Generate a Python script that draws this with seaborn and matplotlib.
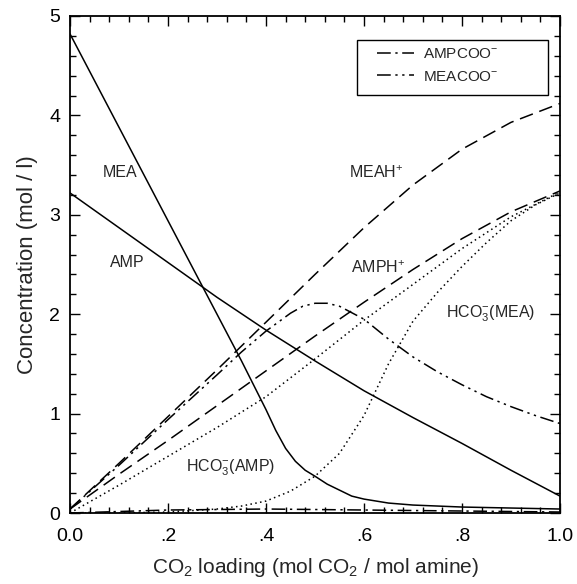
import numpy as np
import pandas as pd
import matplotlib
matplotlib.use("Agg")
import matplotlib.pyplot as plt
from matplotlib.patches import Rectangle
from matplotlib.ticker import MultipleLocator, FixedLocator, FixedFormatter
import seaborn as sns

# Values (loading x, concentration mol/l)
mea_x = [0, 0.1, 0.2, 0.3, 0.35, 0.4, 0.42, 0.44, 0.46, 0.48, 0.5, 0.525, 0.55, 0.575, 0.6, 0.65, 0.7, 0.8, 0.9, 1.0]
mea_y = [4.82, 3.88, 2.94, 2.00, 1.53, 1.04, 0.83, 0.65, 0.52, 0.43, 0.37, 0.29, 0.23, 0.17, 0.14, 0.10, 0.08, 0.06, 0.05, 0.04]

amp_x = [0, 0.1, 0.2, 0.3, 0.4, 0.5, 0.6, 0.7, 0.8, 0.9, 1.0]
amp_y = [3.22, 2.87, 2.52, 2.17, 1.84, 1.53, 1.23, 0.96, 0.70, 0.43, 0.17]

meah_x = [0, 0.1, 0.2, 0.3, 0.4, 0.5, 0.6, 0.7, 0.8, 0.9, 1.0]
meah_y = [0.04, 0.50, 0.97, 1.44, 1.92, 2.40, 2.87, 3.30, 3.66, 3.93, 4.12]

amph_x = [0, 0.1, 0.2, 0.3, 0.4, 0.5, 0.6, 0.7, 0.8, 0.9, 1.0]
amph_y = [0.04, 0.39, 0.73, 1.08, 1.43, 1.78, 2.12, 2.45, 2.76, 3.03, 3.24]

hco3_amp_x = [0, 0.1, 0.2, 0.3, 0.4, 0.5, 0.6, 0.7, 0.8, 0.9, 1.0]
hco3_amp_y = [0.0, 0.28, 0.57, 0.86, 1.17, 1.55, 1.94, 2.30, 2.66, 2.98, 3.23]

hco3_mea_x = [0, 0.1, 0.2, 0.3, 0.35, 0.4, 0.45, 0.5, 0.55, 0.6, 0.65, 0.7, 0.75, 0.8, 0.85, 0.9, 0.95, 1.0]
hco3_mea_y = [0.0, 0.0, 0.01, 0.04, 0.07, 0.12, 0.22, 0.37, 0.60, 0.98, 1.50, 1.93, 2.22, 2.48, 2.72, 2.94, 3.10, 3.22]

meacoo_x = [0, 0.1, 0.2, 0.3, 0.35, 0.4, 0.45, 0.475, 0.5, 0.525, 0.55, 0.6, 0.65, 0.7, 0.75, 0.8, 0.85, 0.9, 0.95, 1.0]
meacoo_y = [0.04, 0.48, 0.94, 1.39, 1.62, 1.83, 2.01, 2.08, 2.11, 2.11, 2.08, 1.95, 1.75, 1.57, 1.42, 1.29, 1.17, 1.07, 0.98, 0.90]

ampcoo_x = [0, 0.2, 0.4, 0.6, 0.8, 1.0]
ampcoo_y = [0.0, 0.03, 0.04, 0.03, 0.02, 0.01]

x_ticks = [0.0, 0.2, 0.4, 0.6, 0.8, 1.0]
x_ticklabels = ["0.0", ".2", ".4", ".6", ".8", "1.0"]
y_ticks = [0, 1, 2, 3, 4, 5]

# line styles
SOLID = "-"
DASHED = (0, (9, 4.5))
DASHDOT = (0, (9, 3, 1.5, 3))
DASHDOTDOT = (0, (9, 3, 1.5, 3, 1.5, 3))
DOTTED = (0, (1, 2.2))

sns.set_style("ticks")
plt.rcParams["font.family"] = ["Liberation Sans", "DejaVu Sans"]
plt.rcParams["mathtext.fontset"] = "custom"
plt.rcParams["mathtext.rm"] = "Liberation Sans"
plt.rcParams["mathtext.it"] = "Liberation Sans"
plt.rcParams["mathtext.bf"] = "Liberation Sans:bold"

fig = plt.figure(figsize=(5.77, 5.84), dpi=100)
ax = fig.add_axes([70 / 577, 71 / 584, 490 / 577, 497 / 584])

series = [
    (mea_x, mea_y, SOLID, None),
    (amp_x, amp_y, SOLID, None),
    (meah_x, meah_y, DASHED, None),
    (amph_x, amph_y, DASHED, None),
    (hco3_amp_x, hco3_amp_y, DOTTED, None),
    (hco3_mea_x, hco3_mea_y, DOTTED, None),
    (ampcoo_x, ampcoo_y, DASHDOT, "AMPCOO$^{-}$"),
    (meacoo_x, meacoo_y, DASHDOTDOT, "MEACOO$^{-}$"),
]

handles = []
for xs, ys, ls, lab in series:
    df = pd.DataFrame({"x": xs, "y": ys})
    sns.lineplot(data=df, x="x", y="y", ax=ax, color="black", lw=1.1,
                 linestyle=ls, estimator=None, sort=False)
    if lab is not None:
        handles.append((ax.lines[-1], lab))

# curve labels
lab_fs = 11.5
ax.text(0.102, 3.43, "MEA", fontsize=lab_fs, ha="center", va="center")
ax.text(0.117, 2.52, "AMP", fontsize=lab_fs, ha="center", va="center")
ax.text(0.625, 3.42, "MEAH$^{+}$", fontsize=lab_fs, ha="center", va="center")
ax.text(0.629, 2.47, "AMPH$^{+}$", fontsize=lab_fs, ha="center", va="center")
ax.text(0.859, 2.0, "HCO$_3^{-}$(MEA)", fontsize=lab_fs, ha="center", va="center")
ax.text(0.327, 0.46, "HCO$_3^{-}$(AMP)", fontsize=lab_fs, ha="center", va="center")

# legend: entries without frame, box drawn separately (wide box as in the original)
leg = ax.legend([h for h, _ in handles], [l for _, l in handles],
                loc="center left", bbox_to_anchor=(0.627, 0.9005),
                fontsize=11, frameon=False, handlelength=2.4,
                borderpad=0.0, borderaxespad=0.0, labelspacing=0.55, handletextpad=0.6)
ax.add_patch(Rectangle((0.586, 0.841), 0.39, 0.111, transform=ax.transAxes,
                       fill=False, edgecolor="black", lw=1.0, zorder=5))

ax.set_xlim(0, 1.0)
ax.set_ylim(0, 5)
ax.xaxis.set_major_locator(FixedLocator(x_ticks))
ax.xaxis.set_major_formatter(FixedFormatter(x_ticklabels))
ax.xaxis.set_minor_locator(MultipleLocator(0.04))
ax.yaxis.set_major_locator(FixedLocator(y_ticks))
ax.yaxis.set_minor_locator(MultipleLocator(0.2))
ax.tick_params(which="both", direction="in", top=True, right=True, width=1.0, colors="black")
ax.tick_params(which="major", length=7.5, labelsize=14)
ax.tick_params(which="minor", length=4)
ax.tick_params(axis="x", which="major", pad=11)
ax.tick_params(axis="y", which="major", pad=7)
for sp in ax.spines.values():
    sp.set_visible(True)
    sp.set_linewidth(1.3)
    sp.set_color("black")

ax.set_xlabel("CO$_2$ loading (mol CO$_2$ / mol amine)", fontsize=15, labelpad=8)
ax.set_ylabel("Concentration (mol / l)", fontsize=16, labelpad=8)

fig.savefig("out.png", dpi=100)
